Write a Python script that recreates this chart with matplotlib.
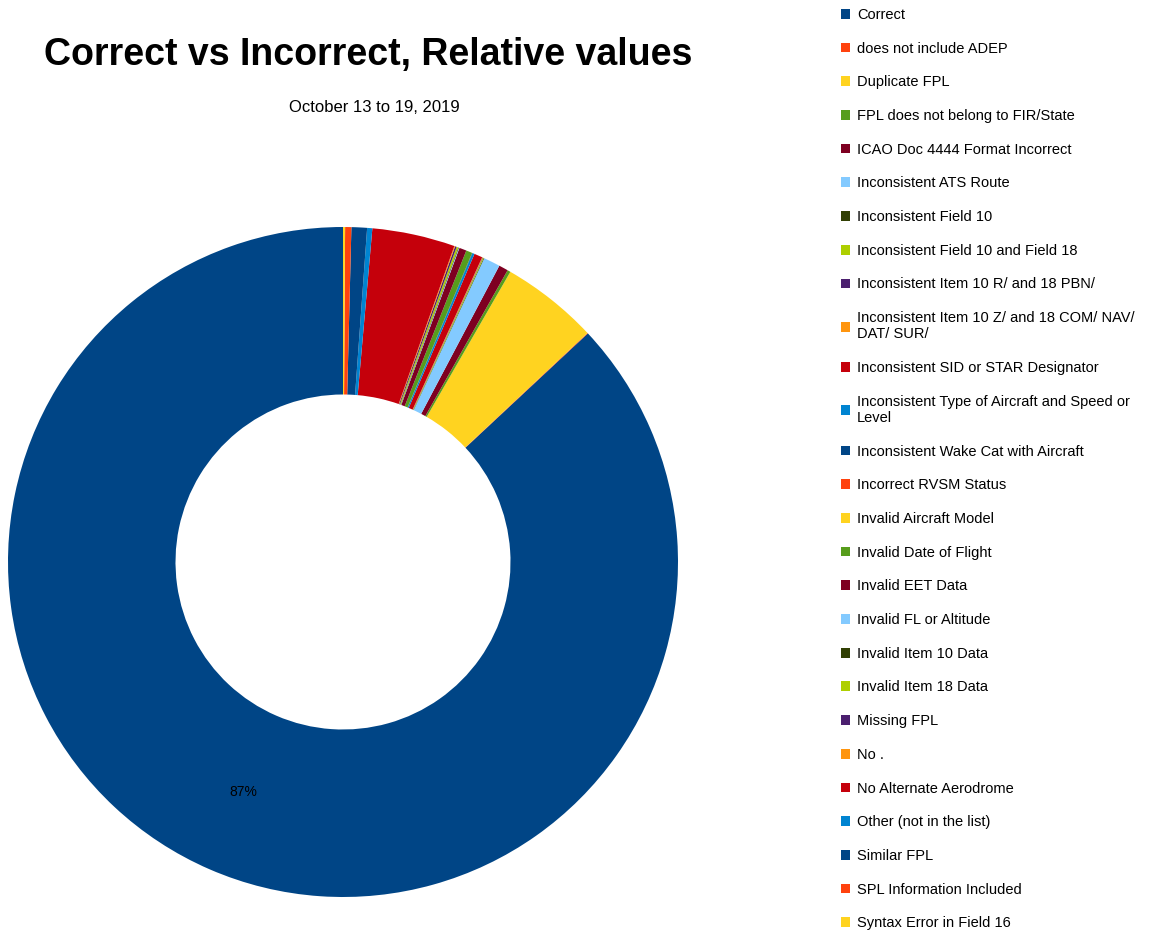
import matplotlib.pyplot as plt

categories = [
    "Correct",
    "does not include ADEP",
    "Duplicate FPL",
    "FPL does not belong to FIR/State",
    "ICAO Doc 4444 Format Incorrect",
    "Inconsistent ATS Route",
    "Inconsistent Field 10",
    "Inconsistent Field 10 and Field 18",
    "Inconsistent Item 10 R/ and 18 PBN/",
    "Inconsistent Item 10 Z/ and 18 COM/ NAV/\nDAT/ SUR/",
    "Inconsistent SID or STAR Designator",
    "Inconsistent Type of Aircraft and Speed or\nLevel",
    "Inconsistent Wake Cat with Aircraft",
    "Incorrect RVSM Status",
    "Invalid Aircraft Model",
    "Invalid Date of Flight",
    "Invalid EET Data",
    "Invalid FL or Altitude",
    "Invalid Item 10 Data",
    "Invalid Item 18 Data",
    "Missing FPL",
    "No .",
    "No Alternate Aerodrome",
    "Other (not in the list)",
    "Similar FPL",
    "SPL Information Included",
    "Syntax Error in Field 16",
]

# share of flight plans per category (%)
values = [
    87.1, 0.03, 4.7, 0.15, 0.45, 0.8, 0.03, 0.04, 0.02, 0.02,
    0.4, 0.1, 0.02, 0.0, 0.0, 0.3, 0.35, 0.03, 0.03, 0.08,
    0.08, 0.04, 4.0, 0.25, 0.75, 0.3, 0.1,
]

palette = ["#004586", "#ff420e", "#ffd320", "#579d1c", "#7e0021", "#83caff",
           "#314004", "#aecf00", "#4b1f6f", "#ff950e", "#c5000b", "#0084d1"]
colors = [palette[i % len(palette)] for i in range(len(values))]

plt.rcParams['font.family'] = ['Liberation Sans', 'DejaVu Sans']

fig = plt.figure(figsize=(11.6, 9.32), dpi=100)
ax = fig.add_axes([8 / 1160, 35 / 932, 670 / 1160, 670 / 932])

wedges, texts, autotexts = ax.pie(
    values, colors=colors, startangle=90, counterclock=True,
    wedgeprops=dict(width=0.5, linewidth=0),
    autopct=lambda p: f"{p:.0f}%" if p > 50 else "",
    pctdistance=0.75, textprops=dict(fontsize=10, color="black"),
)
ax.set_aspect("equal")
ax.set_xlim(-1, 1)
ax.set_ylim(-1, 1)

fig.text(368 / 1160, 1 - 55 / 932, "Correct vs Incorrect, Relative values",
         ha="center", va="center", fontsize=27, fontweight="bold")
fig.text(374 / 1160, 1 - 107 / 932, "October 13 to 19, 2019",
         ha="center", va="center", fontsize=12)

fig.legend(wedges, categories, loc="upper left", bbox_to_anchor=(841 / 1160, 1 - 8 / 932),
           frameon=False, fontsize=10.5, labelspacing=1.35, handlelength=0.65,
           handleheight=0.65, handletextpad=0.45, borderpad=0, borderaxespad=0)

fig.savefig("out.png", dpi=100)
